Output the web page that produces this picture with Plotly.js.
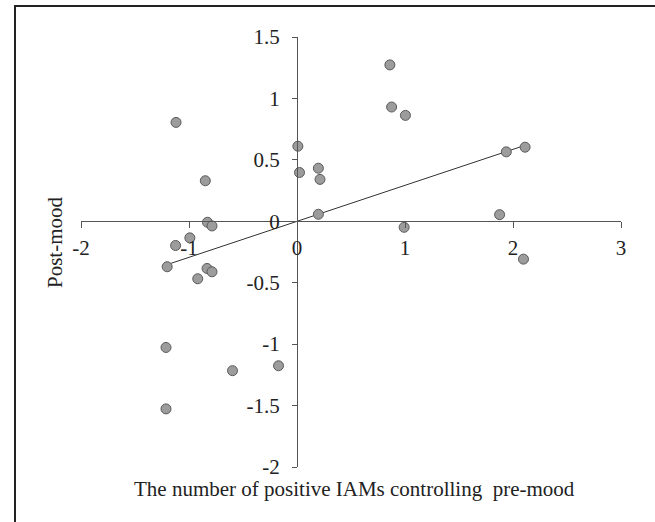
<!DOCTYPE html>
<html>
<head>
<meta charset="utf-8">
<script src="https://cdn.plot.ly/plotly-3.0.1.min.js"></script>
<style>
  html, body { margin: 0; padding: 0; background: #fff; }
  #chart { position: absolute; left: 0; top: 0; width: 655px; height: 522px; }
  #frame { position: absolute; left: 14px; top: 5px; width: 700px; height: 600px;
           border-left: 2px solid #222; border-top: 2px solid #222; pointer-events: none; }
</style>
</head>
<body>
<div id="chart"></div>
<div id="frame"></div>
<script>
// Scatter data: x = number of positive IAMs controlling pre-mood, y = post-mood
const xValues = [-1.12, 0.86, 0.876, 1.004, 0.008, 0.023, 0.198, 0.213, -0.849, 1.938,
                 2.112, 0.198, 1.876, -0.829, -0.787, 0.992, -0.992, -1.124, -1.202, -0.833,
                 -0.787, -0.919, 2.097, -1.213, -0.597, -0.171, -1.213];
const yValues = [0.805, 1.273, 0.93, 0.862, 0.611, 0.397, 0.432, 0.341, 0.33, 0.565,
                 0.603, 0.057, 0.054, -0.008, -0.038, -0.049, -0.135, -0.197, -0.37, -0.384,
                 -0.411, -0.468, -0.308, -1.027, -1.216, -1.176, -1.527];
// Trend line endpoints
const trendX = [-1.2, 2.11];
const trendY = [-0.352, 0.618];
// Tick values and labels
const xTickVals = [-2, -1, 0, 1, 2, 3];
const xTickText = ["-2", "-1", "0", "1", "2", "3"];
const yTickVals = [-2, -1.5, -1, -0.5, 0, 0.5, 1, 1.5];
const yTickText = ["-2", "-1.5", "-1", "-0.5", "0", "0.5", "1", "1.5"];

const font = { family: "Liberation Serif, Times New Roman, serif", size: 21, color: "#222" };

const traces = [
  {
    x: trendX, y: trendY, mode: "lines", type: "scatter",
    line: { color: "#333", width: 1 }, hoverinfo: "skip"
  },
  {
    x: xValues, y: yValues, mode: "markers", type: "scatter",
    marker: { size: 10, color: "#9c9c9c", line: { color: "#5a5a5a", width: 1 } }
  }
];

const layout = {
  width: 655, height: 522,
  margin: { l: 81, r: 34, t: 37, b: 55 },
  paper_bgcolor: "#fff", plot_bgcolor: "#fff",
  showlegend: false,
  font: font,
  xaxis: {
    range: [-2, 3], anchor: "free", position: 2 / 3.5,
    showgrid: false, zeroline: false, showline: true, linecolor: "#555", linewidth: 1,
    ticks: "outside", ticklen: 6, tickcolor: "#555", tickwidth: 1,
    ticklabelstandoff: 2,
    tickvals: xTickVals, ticktext: xTickText, tickfont: font
  },
  yaxis: {
    range: [-2, 1.5], anchor: "free", position: 0.4,
    showgrid: false, zeroline: false, showline: true, linecolor: "#555", linewidth: 1,
    ticks: "outside", ticklen: 5, tickcolor: "#555", tickwidth: 1,
    ticklabelstandoff: 8,
    tickvals: yTickVals, ticktext: yTickText, tickfont: font
  },
  annotations: [
    {
      text: "The number of positive IAMs controlling  pre-mood",
      xref: "paper", yref: "paper", x: (354 - 81) / 540, y: (467 - 489) / 430,
      xanchor: "center", yanchor: "middle", showarrow: false, font: font
    },
    {
      text: "Post-mood",
      xref: "paper", yref: "paper", x: (55 - 81) / 540, y: (467 - 242) / 430,
      xanchor: "center", yanchor: "middle", showarrow: false, textangle: -90, font: font
    }
  ]
};

Plotly.newPlot("chart", traces, layout, { staticPlot: true, displayModeBar: false });
</script>
</body>
</html>
